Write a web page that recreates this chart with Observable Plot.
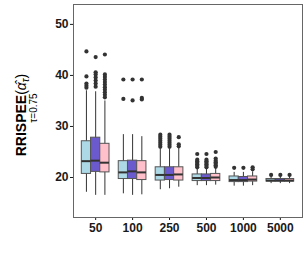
<!DOCTYPE html>
<html><head><meta charset="utf-8">
<script src="https://cdn.jsdelivr.net/npm/d3@7"></script>
<script src="https://cdn.jsdelivr.net/npm/@observablehq/plot@0.6"></script>
<style>body{margin:0;background:#fff}</style>
</head><body><div id="chart"></div>
<script>
// ---- data ----
const sizes = ["50", "100", "250", "500", "1000", "5000"];
const methods = ["M1", "M2", "M3"];
const colors = ["#ADD8E6", "#6A5ACD", "#FFC0CB"];

// per method, per sample size
const whiskerLow = [
  [17.1, 16.8, 17.6, 18.4, 18.3, 18.8],
  [16.5, 16.5, 17.8, 18.4, 18.3, 18.8],
  [16.5, 16.6, 18.1, 18.5, 18.4, 18.8]
];
const quart1 = [
  [20.7, 19.7, 19.4, 19.3, 19.1, 19.2],
  [21.1, 19.7, 19.5, 19.3, 19.1, 19.2],
  [21.0, 19.5, 19.4, 19.3, 19.2, 19.2]
];
const medians = [
  [23.2, 21.0, 20.5, 19.9, 19.5, 19.4],
  [23.3, 21.2, 20.5, 19.9, 19.5, 19.4],
  [22.9, 21.0, 20.6, 20.0, 19.6, 19.4]
];
const quart3 = [
  [27.1, 23.2, 22.0, 20.6, 20.2, 19.7],
  [27.8, 23.3, 22.0, 20.6, 20.1, 19.7],
  [26.6, 23.2, 22.0, 20.7, 20.2, 19.7]
];
const whiskerHigh = [
  [37.0, 28.4, 25.6, 21.7, 21.0, 20.2],
  [36.8, 28.4, 25.6, 21.7, 21.0, 20.2],
  [35.0, 28.0, 25.7, 21.8, 21.1, 20.2]
];
const outliers = [
  [[44.7, 39.8, 38.4, 38.0, 37.6], [39.2, 35.4], [28.4, 28.0, 27.6, 27.2, 26.8, 26.4, 26.0], [24.6, 23.5, 23.2, 22.9, 22.6, 22.3, 22.0], [21.9], [20.5]],
  [[43.6, 40.6, 40.2, 39.6, 39.0, 38.4, 37.8], [39.2, 35.1], [28.4, 28.0, 27.6, 27.2, 26.8, 26.4, 26.0], [24.6, 23.5, 23.2, 22.9, 22.6, 22.3, 22.0], [21.9], [20.5]],
  [[44.1, 40.2, 39.7, 39.2, 38.7, 38.2, 37.7, 37.2, 36.7, 36.2, 35.7], [39.2, 35.6, 35.3], [27.9, 26.5, 26.1], [25.0, 23.7, 23.3, 23.0, 22.7, 22.4, 22.1], [22.0, 21.6], [20.5]]
];

// ---- build tables ----
const dodge = 0.25;
const boxes = [];
const points = [];
methods.forEach((m, mi) => {
  sizes.forEach((s, gi) => {
    const pos = gi + 1 + (mi - 1) * dodge;
    boxes.push({method: m, size: s, pos, x1: pos - dodge / 2, x2: pos + dodge / 2,
      lo: whiskerLow[mi][gi], q1: quart1[mi][gi], med: medians[mi][gi],
      q3: quart3[mi][gi], hi: whiskerHigh[mi][gi]});
    outliers[mi][gi].forEach(v => points.push({method: m, size: s, pos, v}));
  });
});

const chart = Plot.plot({
  width: 307, height: 256,
  marginLeft: 73, marginRight: 5, marginTop: 4, marginBottom: 39,
  style: {fontFamily: "Liberation Sans, Arial, sans-serif", fontSize: "12px", fontWeight: "bold", color: "#1a1a1a", background: "#fff"},
  x: {domain: [0.4, 6.6], ticks: d3.range(1, sizes.length + 1), tickFormat: i => sizes[i - 1], tickSize: 3, tickPadding: 3, label: null},
  y: {domain: [12.16, 53.9], ticks: [20, 30, 40, 50], tickSize: 3, tickPadding: 2, label: null},
  color: {domain: methods, range: colors},
  marks: [
    Plot.frame({stroke: "#666"}),
    Plot.ruleX(boxes, {x: "pos", y1: "lo", y2: "hi", stroke: "#333", strokeWidth: 1}),
    Plot.rect(boxes, {x1: "x1", x2: "x2", y1: "q1", y2: "q3", fill: "method", stroke: "#555", strokeWidth: 1}),
    Plot.ruleY(boxes, {x1: "x1", x2: "x2", y: "med", stroke: "#333", strokeWidth: 2}),
    Plot.dot(points, {x: "pos", y: "v", r: 2.1, fill: "#333", stroke: "none"}),
    Plot.text([0], {frameAnchor: "left", textAnchor: "middle", text: () => "RRISPEE", rotate: -90, dx: -52, dy: 4, fontSize: 14, fontWeight: "bold", fill: "#000"}),
    Plot.text([0], {frameAnchor: "left", textAnchor: "middle", text: () => "τ=0.75", rotate: -90, dx: -40, dy: -3, fontSize: 10, fontWeight: "normal", fill: "#000"})
  ]
});
document.getElementById("chart").appendChild(chart);

// add the math part of the y label: (α̂τ)
d3.select(chart).selectAll("text").filter(function () { return this.textContent === "RRISPEE"; })
  .each(function () {
    const t = d3.select(this);
    t.append("tspan").attr("font-weight", "normal").text("(");
    t.append("tspan").attr("font-weight", "normal").attr("font-style", "italic").text("α̂");
    t.append("tspan").attr("font-weight", "normal").attr("font-style", "italic").attr("font-size", 10).attr("dy", 3).text("τ");
    t.append("tspan").attr("font-weight", "normal").attr("dy", -3).text(")");
  });
</script>
</body></html>
